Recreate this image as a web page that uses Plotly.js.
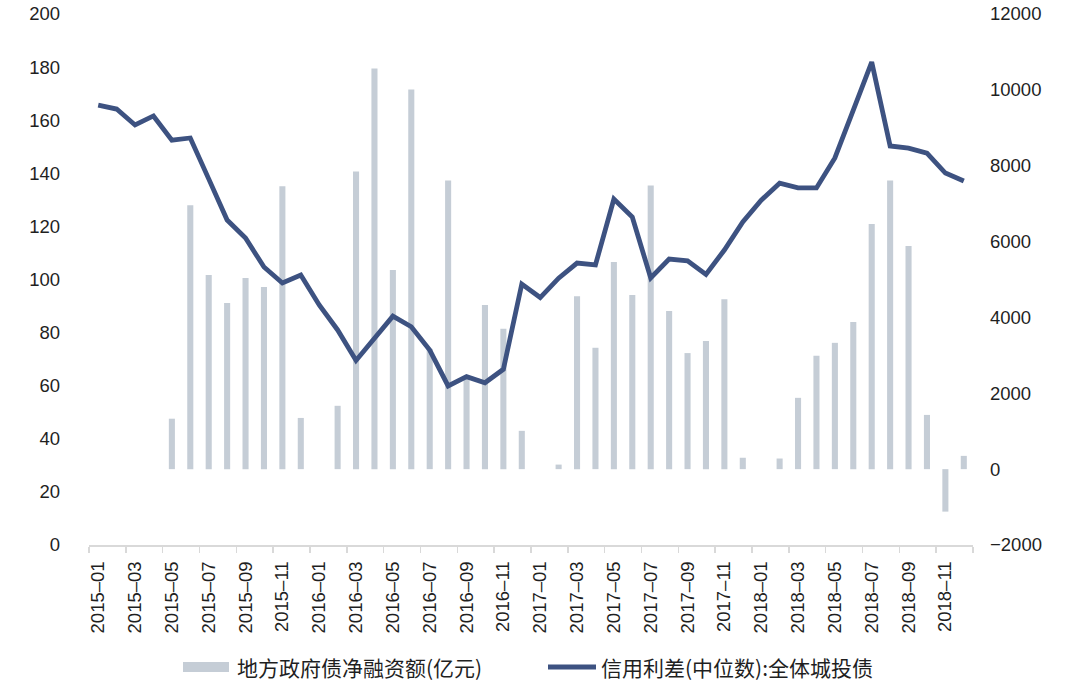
<!DOCTYPE html>
<html>
<head>
<meta charset="utf-8">
<script src="https://cdn.plot.ly/plotly-3.0.1.min.js"></script>
<style>html,body{margin:0;padding:0;background:#fff;}#chart{width:1080px;height:687px;}</style>
</head>
<body>
<div id="chart"></div>
<script>
const months = [
  "2015–01","2015–02","2015–03","2015–04","2015–05","2015–06","2015–07","2015–08","2015–09","2015–10","2015–11","2015–12",
  "2016–01","2016–02","2016–03","2016–04","2016–05","2016–06","2016–07","2016–08","2016–09","2016–10","2016–11","2016–12",
  "2017–01","2017–02","2017–03","2017–04","2017–05","2017–06","2017–07","2017–08","2017–09","2017–10","2017–11","2017–12",
  "2018–01","2018–02","2018–03","2018–04","2018–05","2018–06","2018–07","2018–08","2018–09","2018–10","2018–11","2018–12"
];
// 地方政府债净融资额(亿元) — right axis
const netFinancing = [
  null,null,null,null,1330,6960,5120,4380,5040,4800,7460,1350,
  null,1670,7850,10560,5250,10010,3170,7610,2400,4330,3700,1010,
  null,120,4560,3200,5460,4590,7480,4170,3060,3380,4480,300,
  null,280,1880,2990,3330,3880,6460,7610,5880,1430,-1120,350
];
// 信用利差(中位数):全体城投债 — left axis
const creditSpread = [
  165.7,164.2,158.2,161.6,152.5,153.3,137.9,122.4,115.6,104.7,98.7,101.7,
  90.4,81.0,69.5,77.6,86.2,82.2,73.4,59.9,63.4,61.1,66.2,98.3,
  93.2,100.5,106.2,105.5,130.3,123.5,100.6,107.7,107.0,101.9,111.1,121.7,
  129.9,136.3,134.5,134.5,145.8,163.8,181.9,150.3,149.5,147.6,140.1,137.1
];
const barName = "地方政府债净融资额(亿元)";
const lineName = "信用利差(中位数):全体城投债";
const leftTicks = [0,20,40,60,80,100,120,140,160,180,200];
const rightTicks = [-2000,0,2000,4000,6000,8000,10000,12000];

const BAR_COLOR = "#C5CDD6";
const LINE_COLOR = "#3D5281";
const TXT = "#1f1f1f";
const W = 1080, H = 687;
const M = {l: 89, r: 107, t: 14, b: 142};
const pw = W - M.l - M.r, ph = H - M.t - M.b;
const px = x => (x - M.l) / pw;
const py = y => (H - M.b - y) / ph;

const traces = [
  {type: "bar", name: barName, x: months, y: netFinancing, yaxis: "y",
   marker: {color: BAR_COLOR}, width: 0.33, showlegend: false, hoverinfo: "x+y"},
  {type: "scatter", mode: "lines", name: lineName, x: months, y: creditSpread, yaxis: "y2",
   line: {color: LINE_COLOR, width: 4.8}, showlegend: false}
];

const tickFont = {family: "Liberation Sans, Arial, sans-serif", size: 18.5, color: TXT};
const legFont = {family: "Noto Sans CJK SC, sans-serif", size: 21, color: TXT};

const layout = {
  width: W, height: H,
  margin: M,
  paper_bgcolor: "#fff", plot_bgcolor: "#fff",
  showlegend: false,
  xaxis: {type: "category", range: [-0.5, 47.5], tickmode: "linear", tick0: 0, dtick: 2,
          tickson: "boundaries", ticks: "outside", ticklen: 6, tickcolor: "#D9D9D9", tickwidth: 1.5,
          showline: true, linecolor: "#D9D9D9", linewidth: 2, showgrid: false, zeroline: false,
          tickangle: -90, tickfont: tickFont, ticklabelstandoff: 7},
  yaxis: {side: "right", range: [-2000, 12000], tickvals: rightTicks, ticktext: rightTicks.map(v => v < 0 ? "−" + Math.abs(v) : String(v)),
          showgrid: false, zeroline: false, showline: false, ticks: "", tickfont: tickFont, ticklabelstandoff: 16},
  yaxis2: {overlaying: "y", side: "left", range: [0, 200], tickvals: leftTicks,
           showgrid: false, zeroline: false, showline: false, ticks: "", tickfont: tickFont, ticklabelstandoff: 28},
  shapes: [
    {type: "rect", xref: "paper", yref: "paper", x0: px(183), x1: px(229), y0: py(672), y1: py(662),
     fillcolor: BAR_COLOR, line: {width: 0}},
    {type: "line", xref: "paper", yref: "paper", x0: px(548), x1: px(596), y0: py(667), y1: py(667),
     line: {color: LINE_COLOR, width: 4.8}}
  ],
  annotations: [
    {xref: "paper", yref: "paper", x: px(235), y: py(667), xanchor: "left", yanchor: "middle",
     text: barName, showarrow: false, font: legFont},
    {xref: "paper", yref: "paper", x: px(599), y: py(667), xanchor: "left", yanchor: "middle",
     text: lineName, showarrow: false, font: legFont}
  ]
};

Plotly.newPlot("chart", traces, layout, {displayModeBar: false, staticPlot: true});
</script>
</body>
</html>
